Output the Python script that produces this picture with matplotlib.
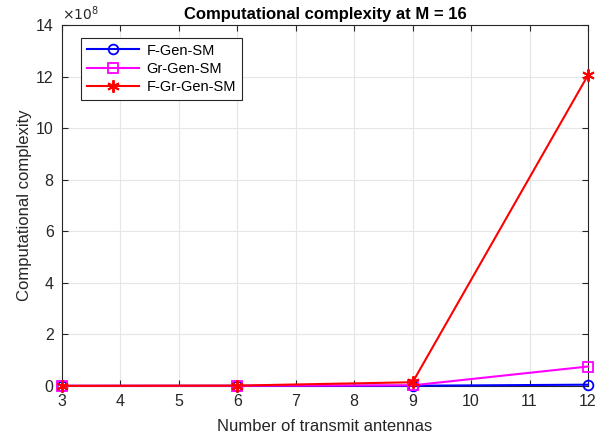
import matplotlib
matplotlib.use("Agg")
import matplotlib.pyplot as plt

plt.rcParams['font.family'] = ['Liberation Sans', 'DejaVu Sans']

antennas = [3, 6, 9, 12]
f_gen_sm = [0.0, 0.0005, 0.005, 0.045]        # x 1e8
gr_gen_sm = [0.0, 0.003, 0.02, 0.75]          # x 1e8
f_gr_gen_sm = [0.0, 0.01, 0.14, 12.05]        # x 1e8
scale = 1e8

fig = plt.figure(figsize=(6.08, 4.43), dpi=100)
ax = fig.add_axes([0.102, 0.129, 0.865, 0.8146])

ax.plot(antennas, [v * scale for v in f_gen_sm], color='#0000ff', marker='o',
        markersize=7, markerfacecolor='none', markeredgewidth=1.3, linewidth=1.5,
        label='F-Gen-SM', clip_on=False, zorder=3)
ax.plot(antennas, [v * scale for v in gr_gen_sm], color='#ff00ff', marker='s',
        markersize=7, markerfacecolor='none', markeredgewidth=1.3, linewidth=1.5,
        label='Gr-Gen-SM', clip_on=False, zorder=4)
ax.plot(antennas, [v * scale for v in f_gr_gen_sm], color='#ff0000', marker=(6, 2, 0),
        markersize=9, linewidth=1.5, markeredgewidth=1.4,
        label='F-Gr-Gen-SM', clip_on=False, zorder=5)

ax.set_xlim(3, 12)
ax.set_ylim(0, 14e8)
ax.set_xticks(range(3, 13))
ax.set_yticks([i * 1e8 for i in range(0, 15, 2)])
ax.set_yticklabels([str(i) for i in range(0, 15, 2)])
ax.text(0.0, 1.005, r'$\times 10^8$', transform=ax.transAxes, fontsize=10,
        color='#262626', ha='left', va='bottom')

ax.grid(True, color='#e6e6e6', linewidth=0.8)
ax.set_axisbelow(True)
for s in ax.spines.values():
    s.set_color('#262626')
    s.set_linewidth(0.8)
ax.tick_params(direction='in', colors='#262626', labelsize=11.5, top=True, right=True,
               length=4, pad=6)

ax.set_xlabel('Number of transmit antennas', fontsize=12, color='#262626', labelpad=7)
ax.set_ylabel('Computational complexity', fontsize=12, color='#262626', labelpad=3)
ax.set_title('Computational complexity at M = 16', fontsize=12, fontweight='bold',
             color='black', pad=4)

leg = ax.legend(loc='upper left', bbox_to_anchor=(0.022, 0.985), fontsize=10.5,
                fancybox=False, edgecolor='#262626', framealpha=1,
                handlelength=3.6, borderpad=0.4, labelspacing=0.3, handletextpad=0.5)
leg.get_frame().set_linewidth(0.8)

fig.savefig('out.png', dpi=100)
